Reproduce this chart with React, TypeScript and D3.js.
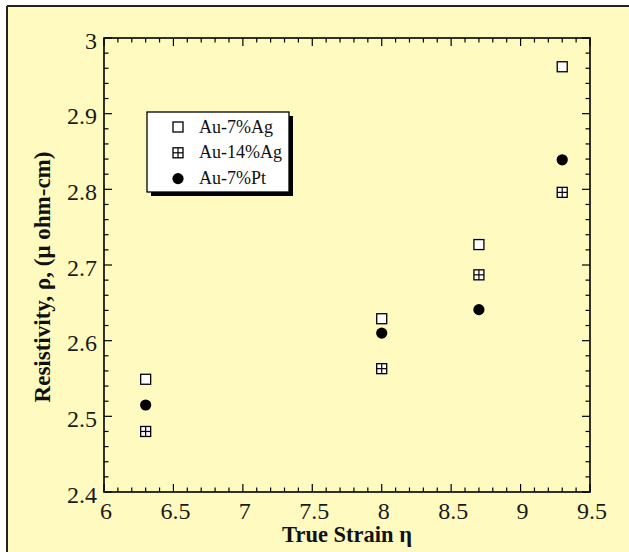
import React from "react";
import * as d3 from "d3";

// data
const strains = [6.3, 8.0, 8.7, 9.3];
const au7Ag = [2.549, 2.629, 2.727, 2.962];
const au14Ag = [2.48, 2.563, 2.687, 2.796];
const au7Pt = [2.515, 2.61, 2.641, 2.839];

const seriesNames = ["Au-7%Ag", "Au-14%Ag", "Au-7%Pt"];
const seriesShapes = ["square", "crossSquare", "circle"];

const xTickValues = [6, 6.5, 7, 7.5, 8, 8.5, 9, 9.5];
const xTickLabels = ["6", "6.5", "7", "7.5", "8", "8.5", "9", "9.5"];
const yTickValues = [2.4, 2.5, 2.6, 2.7, 2.8, 2.9, 3.0];
const yTickLabels = ["2.4", "2.5", "2.6", "2.7", "2.8", "2.9", "3"];

const width = 629;
const height = 552;
const plot = { left: 104, right: 590, top: 38, bottom: 492 };
const bg = "#fffabf";
const font = "'Liberation Serif', 'Times New Roman', serif";

const Marker = ({ shape, cx, cy }: { shape: string; cx: number; cy: number }) => {
  const s = 10;
  if (shape === "circle") {
    return <circle cx={cx} cy={cy} r={5.6} fill="#000" />;
  }
  return (
    <g>
      <rect x={cx - s / 2} y={cy - s / 2} width={s} height={s} fill="#fff" stroke="#000" strokeWidth={1.3} />
      {shape === "crossSquare" && (
        <>
          <line x1={cx} x2={cx} y1={cy - s / 2} y2={cy + s / 2} stroke="#000" strokeWidth={1.2} />
          <line x1={cx - s / 2} x2={cx + s / 2} y1={cy} y2={cy} stroke="#000" strokeWidth={1.2} />
        </>
      )}
    </g>
  );
};

export default function App() {
  const x = d3.scaleLinear().domain([6, 9.5]).range([plot.left, plot.right]);
  const y = d3.scaleLinear().domain([2.4, 3.0]).range([plot.bottom, plot.top]);

  const xMinor = d3.range(60, 96).map((d) => d / 10).filter((d) => !xTickValues.some((t) => Math.abs(t - d) < 1e-6));
  const yMinor = d3.range(120, 151).map((d) => d / 50).filter((d) => !yTickValues.some((t) => Math.abs(t - d) < 1e-6));

  const series = [au7Ag, au14Ag, au7Pt];

  const major = 8;
  const minor = 4.5;

  return (
    <svg width={width} height={height} style={{ position: "absolute", left: 0, top: 0 }} fontFamily={font}>
      <rect x={0} y={0} width={width} height={height} fill="#fff" />
      <rect x={7} y={6} width={width} height={height} fill={bg} />
      <line x1={7} x2={width} y1={6} y2={6} stroke="#222" strokeWidth={2} />
      <line x1={7} x2={7} y1={6} y2={height} stroke="#222" strokeWidth={2} />

      {/* ticks on all four sides, pointing inward */}
      <g stroke="#000" strokeWidth={1.2}>
        {xTickValues.map((t) => (
          <g key={"xm" + t}>
            <line x1={x(t)} x2={x(t)} y1={plot.bottom} y2={plot.bottom - major} />
            <line x1={x(t)} x2={x(t)} y1={plot.top} y2={plot.top + major} />
          </g>
        ))}
        {xMinor.map((t) => (
          <g key={"xn" + t}>
            <line x1={x(t)} x2={x(t)} y1={plot.bottom} y2={plot.bottom - minor} />
            <line x1={x(t)} x2={x(t)} y1={plot.top} y2={plot.top + minor} />
          </g>
        ))}
        {yTickValues.map((t) => (
          <g key={"ym" + t}>
            <line x1={plot.left} x2={plot.left + major} y1={y(t)} y2={y(t)} />
            <line x1={plot.right} x2={plot.right - major} y1={y(t)} y2={y(t)} />
          </g>
        ))}
        {yMinor.map((t) => (
          <g key={"yn" + t}>
            <line x1={plot.left} x2={plot.left + minor} y1={y(t)} y2={y(t)} />
            <line x1={plot.right} x2={plot.right - minor} y1={y(t)} y2={y(t)} />
          </g>
        ))}
      </g>
      <rect
        x={plot.left}
        y={plot.top}
        width={plot.right - plot.left}
        height={plot.bottom - plot.top}
        fill="none"
        stroke="#000"
        strokeWidth={1.6}
      />

      {/* tick labels */}
      <g fontSize={24} fill="#1a1a1a">
        {xTickValues.map((t, i) => (
          <text key={"xl" + t} x={x(t) + 2} y={519} textAnchor="middle">
            {xTickLabels[i]}
          </text>
        ))}
        {yTickValues.map((t, i) => (
          <text key={"yl" + t} x={plot.left - 7} y={y(t) + 10.5} textAnchor="end">
            {yTickLabels[i]}
          </text>
        ))}
      </g>

      {/* axis titles */}
      <text x={(plot.left + plot.right) / 2} y={542} textAnchor="middle" fontSize={22.5} fontWeight="bold" fill="#111">
        True Strain η
      </text>
      <text
        transform={`translate(50, ${(plot.top + plot.bottom) / 2 + 12}) rotate(-90)`}
        textAnchor="middle"
        fontSize={23}
        fontWeight="bold"
        fill="#111"
      >
        Resistivity, ρ, (μ ohm-cm)
      </text>

      {/* data */}
      {series.map((vals, si) =>
        vals.map((v, i) => <Marker key={si + "-" + i} shape={seriesShapes[si]} cx={x(strains[i])} cy={y(v)} />)
      )}

      {/* legend */}
      <g>
        <rect x={151} y={116} width={142} height={80} fill="#000" />
        <rect x={147} y={112} width={142} height={80} fill="#fff" stroke="#000" strokeWidth={1.3} />
        {seriesNames.map((name, i) => (
          <g key={name}>
            <Marker shape={seriesShapes[i]} cx={178} cy={127 + i * 25.8} />
            <text x={199} y={132.5 + i * 25.8} fontSize={18} fill="#111">
              {name}
            </text>
          </g>
        ))}
      </g>
    </svg>
  );
}
